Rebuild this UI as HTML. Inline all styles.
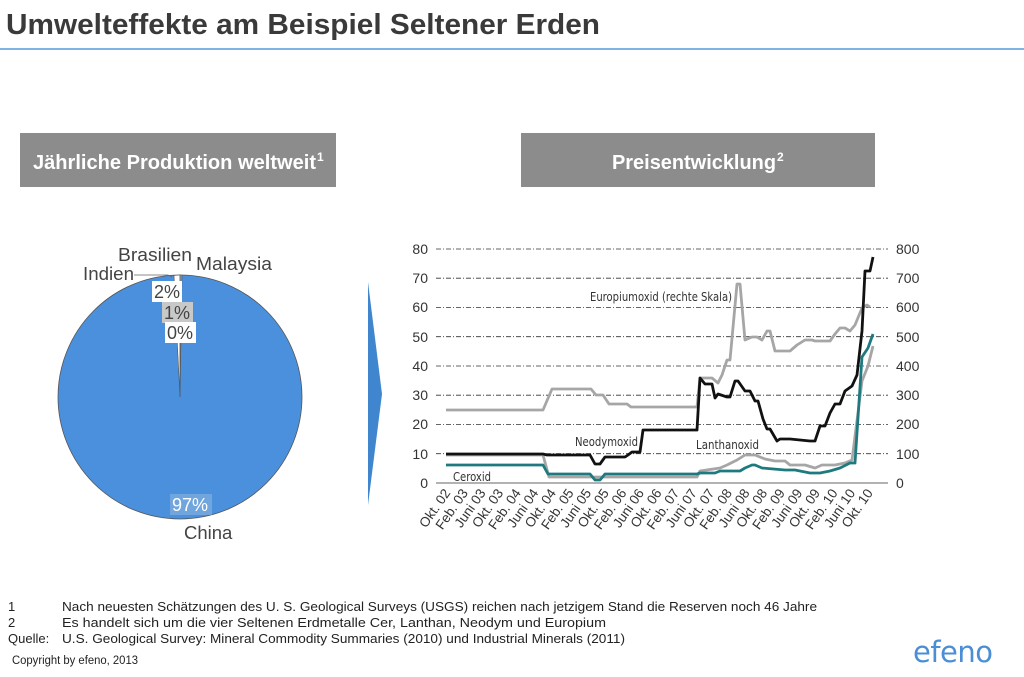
<!DOCTYPE html>
<html><head><meta charset="utf-8"><style>
body{margin:0;width:1024px;height:672px;background:#fff;overflow:hidden;font-family:"Liberation Sans",Arial,sans-serif}
</style></head><body>
<svg width="1024" height="672" viewBox="0 0 1024 672" xmlns="http://www.w3.org/2000/svg" font-family="Liberation Sans, Arial, sans-serif">
<text x="6" y="34" font-size="29" font-weight="bold" fill="#3a3a3a" textLength="594" lengthAdjust="spacingAndGlyphs">Umwelteffekte am Beispiel Seltener Erden</text>
<line x1="0" y1="49" x2="1024" y2="49" stroke="#7fb2e5" stroke-width="2"/>
<rect x="20" y="133" width="316" height="54" fill="#8c8c8c"/>
<text x="33" y="169" font-size="20" font-weight="bold" fill="#fff" textLength="283" lengthAdjust="spacingAndGlyphs">Jährliche Produktion weltweit</text>
<text x="317" y="161" font-size="12" font-weight="bold" fill="#fff">1</text>
<rect x="521" y="133" width="354" height="54" fill="#8c8c8c"/>
<text x="612" y="169" font-size="20" font-weight="bold" fill="#fff" textLength="164" lengthAdjust="spacingAndGlyphs">Preisentwicklung</text>
<text x="777" y="161" font-size="12" font-weight="bold" fill="#fff">2</text>
<polygon points="368,282 382,394 368,505" fill="#3f86cf"/>
<!-- pie -->
<circle cx="180" cy="397" r="122" fill="#4a90dc" stroke="#555" stroke-width="0.8"/>
<polygon points="180,397 174,275.5 180,275" fill="#fff" stroke="#555" stroke-width="0.6"/>
<polygon points="180,397 180,275 182,275" fill="#999" stroke="#555" stroke-width="0.6"/>
<polyline points="134,275 168,275 172,277" fill="none" stroke="#666" stroke-width="0.8"/>
<text x="118" y="261" font-size="18.5" fill="#444" textLength="74" lengthAdjust="spacingAndGlyphs">Brasilien</text>
<text x="196" y="270" font-size="18.5" fill="#444" textLength="76" lengthAdjust="spacingAndGlyphs">Malaysia</text>
<text x="83" y="280" font-size="18.5" fill="#444" textLength="51" lengthAdjust="spacingAndGlyphs">Indien</text>
<rect x="152" y="281" width="30" height="21" fill="#fff"/><text x="154" y="298" font-size="18" fill="#444">2%</text>
<rect x="162" y="302" width="31" height="21" fill="#c8c8c8"/><text x="164" y="319" font-size="18" fill="#444">1%</text>
<rect x="165" y="322" width="31" height="21" fill="#fff"/><text x="167" y="339" font-size="18" fill="#444">0%</text>
<rect x="170" y="494" width="42" height="21" fill="#8ab4e0" opacity="0.6"/>
<text x="172" y="511" font-size="18" fill="#fff">97%</text>
<text x="184" y="539" font-size="18.5" fill="#444">China</text>
<!-- chart grid -->
<g stroke="#333" stroke-width="0.8" stroke-dasharray="5,2,1,2">
<line x1="436" y1="249" x2="888" y2="249"/><line x1="436" y1="278.2" x2="888" y2="278.2"/>
<line x1="436" y1="307.5" x2="888" y2="307.5"/><line x1="436" y1="336.7" x2="888" y2="336.7"/>
<line x1="436" y1="366" x2="888" y2="366"/><line x1="436" y1="395.2" x2="888" y2="395.2"/>
<line x1="436" y1="424.5" x2="888" y2="424.5"/><line x1="436" y1="453.7" x2="888" y2="453.7"/>
</g>
<line x1="436" y1="483" x2="888" y2="483" stroke="#333" stroke-width="0.8"/>
<g font-size="14" fill="#333" text-anchor="end">
<text x="428" y="254">80</text><text x="428" y="283">70</text><text x="428" y="312">60</text><text x="428" y="342">50</text><text x="428" y="371">40</text><text x="428" y="400">30</text><text x="428" y="429">20</text><text x="428" y="459">10</text><text x="428" y="488">0</text>
</g>
<g font-size="14" fill="#333" text-anchor="start">
<text x="896" y="254">800</text><text x="896" y="283">700</text><text x="896" y="312">600</text><text x="896" y="342">500</text><text x="896" y="371">400</text><text x="896" y="400">300</text><text x="896" y="429">200</text><text x="896" y="459">100</text><text x="896" y="488">0</text>
</g>
<g font-size="13.5" fill="#333" text-anchor="end">
<text transform="translate(451,493) rotate(-55)">Okt. 02</text>
<text transform="translate(468.6,493) rotate(-55)">Feb. 03</text>
<text transform="translate(486.2,493) rotate(-55)">Juni 03</text>
<text transform="translate(503.8,493) rotate(-55)">Okt. 03</text>
<text transform="translate(521.4,493) rotate(-55)">Feb. 04</text>
<text transform="translate(539,493) rotate(-55)">Juni 04</text>
<text transform="translate(556.6,493) rotate(-55)">Okt. 04</text>
<text transform="translate(574.2,493) rotate(-55)">Feb. 05</text>
<text transform="translate(591.8,493) rotate(-55)">Juni 05</text>
<text transform="translate(609.4,493) rotate(-55)">Okt. 05</text>
<text transform="translate(627,493) rotate(-55)">Feb. 06</text>
<text transform="translate(644.6,493) rotate(-55)">Juni 06</text>
<text transform="translate(662.2,493) rotate(-55)">Okt. 06</text>
<text transform="translate(679.8,493) rotate(-55)">Feb. 07</text>
<text transform="translate(697.4,493) rotate(-55)">Juni 07</text>
<text transform="translate(715,493) rotate(-55)">Okt. 07</text>
<text transform="translate(732.6,493) rotate(-55)">Feb. 08</text>
<text transform="translate(750.2,493) rotate(-55)">Juni 08</text>
<text transform="translate(767.8,493) rotate(-55)">Okt. 08</text>
<text transform="translate(785.4,493) rotate(-55)">Feb. 09</text>
<text transform="translate(803,493) rotate(-55)">Juni 09</text>
<text transform="translate(820.6,493) rotate(-55)">Okt. 09</text>
<text transform="translate(838.2,493) rotate(-55)">Feb. 10</text>
<text transform="translate(855.8,493) rotate(-55)">Juni 10</text>
<text transform="translate(873.4,493) rotate(-55)">Okt. 10</text>
</g>
<g fill="none" stroke-width="2.8" stroke-linejoin="round">
<polyline stroke="#a6a6a6" points="446,410 543,410 552,389 591,389 596,395 603,395 609,404 627,404 631,407 697,407 700,378 712,378 718,383 722,375 727,360 730,360 737,284 740,284 745,340 752,337 757,337 762,340 767,331 770,331 775,351 790,351 797,345 805,340 812,340 815,341 830,341 835,334 840,328 845,328 850,331 855,325 862,308 867,305 870,307"/>
<polyline stroke="#a6a6a6" points="446,455 543,455 549,477 697,477 700,471 720,468 727,465 737,460 745,455 755,455 765,459 775,461 785,461 790,465 805,465 815,468 822,465 835,465 845,463 852,460 862,381 868,366 873,346"/>
<polyline stroke="#111" points="446,454 543,454 547,455 590,455 595,464 600,464 605,457 625,457 628,455 632,452 640,452 643,430 697,430 700,378 705,384 712,384 715,398 718,394 727,397 730,397 735,381 738,381 745,391 750,391 755,401 758,401 763,419 767,429 770,429 777,441 780,439 790,439 810,441 815,441 820,426 825,426 830,413 835,404 840,404 845,391 852,386 857,375 862,331 865,271 870,271 873,257"/>
<polyline stroke="#1f7a80" points="446,465 543,465 548,474 590,474 595,480 600,480 605,474 697,474 700,473 715,473 720,471 740,471 745,468 752,465 755,465 762,468 785,470 795,470 810,473 820,473 830,471 840,468 850,463 855,463 862,357 868,348 873,334"/>
</g>
<g font-family="DejaVu Sans Condensed, DejaVu Sans, sans-serif" font-size="12" fill="#333">
<text x="590" y="301" textLength="142" lengthAdjust="spacingAndGlyphs">Europiumoxid (rechte Skala)</text>
<text x="575" y="446" textLength="63" lengthAdjust="spacingAndGlyphs">Neodymoxid</text>
<text x="696" y="449" textLength="63" lengthAdjust="spacingAndGlyphs">Lanthanoxid</text>
<text x="453" y="481" textLength="38" lengthAdjust="spacingAndGlyphs">Ceroxid</text>
</g>
<g font-size="13" fill="#222">
<text x="8" y="611">1</text><text x="62" y="611" textLength="755" lengthAdjust="spacingAndGlyphs">Nach neuesten Schätzungen des U. S. Geological Surveys (USGS) reichen nach jetzigem Stand die Reserven noch 46 Jahre</text>
<text x="8" y="627">2</text><text x="62" y="627" textLength="544" lengthAdjust="spacingAndGlyphs">Es handelt sich um die vier Seltenen Erdmetalle Cer, Lanthan, Neodym und Europium</text>
<text x="8" y="643">Quelle:</text><text x="62" y="643" textLength="563" lengthAdjust="spacingAndGlyphs">U.S. Geological Survey: Mineral Commodity Summaries (2010) und Industrial Minerals (2011)</text>
</g>
<text x="12" y="664" font-size="11.5" fill="#222" textLength="126" lengthAdjust="spacingAndGlyphs">Copyright by efeno, 2013</text>
<text x="913" y="662" font-size="29" fill="#4a8ed6" font-family="DejaVu Sans, sans-serif" letter-spacing="-0.5">efeno</text>
</svg>
</body></html>
